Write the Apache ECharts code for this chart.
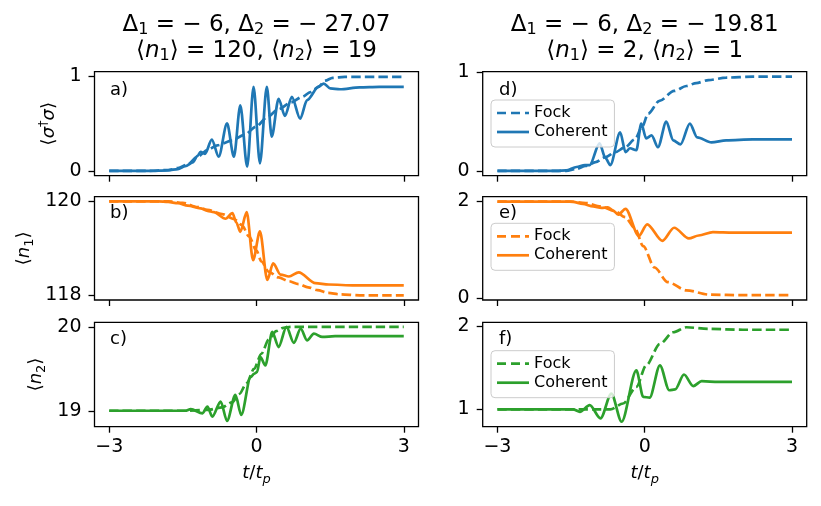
<!DOCTYPE html>
<html>
<head>
<meta charset="utf-8">
<script src="https://cdn.jsdelivr.net/npm/echarts@6/dist/echarts.min.js"></script>
<style>
  html, body { margin: 0; padding: 0; background: #fff; }
  #main { width: 821px; height: 506px; }
</style>
</head>
<body>
<div id="main"></div>
<script>
// t/t_p axis ticks
var xTicks = [-3, 0, 3];

// panel a) <sigma+ sigma>, Delta2 = -27.07
var aFock = [[-3,0],[-2.2,0],[-1.8,0.01],[-1.6,0.03],[-1.4,0.07],[-1.2,0.15],[-1.0,0.22],[-0.8,0.27],[-0.5,0.32],[-0.25,0.38],[0,0.47],[0.2,0.56],[0.45,0.65],[0.7,0.72],[0.93,0.78],[1.1,0.83],[1.25,0.88],[1.4,0.95],[1.55,0.98],[1.8,0.99],[3,0.99]];
var aCoh = [[-3,0],[-2.2,0],[-1.8,0.007],[-1.6,0.02],[-1.45,0.05],[-1.3,0.09],[-1.2,0.16],[-1.14,0.2],[-1.05,0.18],[-0.91,0.33],[-0.77,0.15],[-0.6,0.5],[-0.46,0.15],[-0.33,0.69],[-0.19,0.045],[-0.06,0.885],[0.07,0.08],[0.21,0.885],[0.31,0.36],[0.45,0.76],[0.58,0.58],[0.72,0.78],[0.89,0.55],[1.03,0.745],[1.27,0.89],[1.37,0.92],[1.5,0.87],[1.7,0.86],[2.1,0.88],[2.5,0.885],[3,0.885]];

// panel b) <n1>
var bFock = [[-3,120],[-1.8,120],[-1.5,119.97],[-1.2,119.88],[-1.0,119.82],[-0.7,119.73],[-0.45,119.62],[-0.3,119.5],[-0.15,119.25],[0,118.95],[0.1,118.72],[0.25,118.5],[0.45,118.38],[0.66,118.3],[0.86,118.24],[1.05,118.17],[1.24,118.11],[1.46,118.05],[1.7,118.02],[2.1,118.0],[3,118.0]];
var bCoh = [[-3,120],[-2.0,120],[-1.8,119.99],[-1.6,119.96],[-1.4,119.91],[-1.14,119.85],[-1.0,119.8],[-0.87,119.77],[-0.63,119.63],[-0.49,119.75],[-0.41,119.55],[-0.33,119.35],[-0.2,119.77],[-0.07,118.75],[0.07,119.36],[0.22,118.33],[0.34,118.68],[0.49,118.44],[0.66,118.4],[0.86,118.49],[1.2,118.26],[1.47,118.23],[2.0,118.21],[3,118.21]];

// panel c) <n2>
var cFock = [[-3,19],[-1.5,19],[-1.0,19.01],[-0.7,19.04],[-0.5,19.1],[-0.35,19.2],[-0.2,19.33],[-0.05,19.5],[0.1,19.68],[0.25,19.85],[0.4,19.95],[0.55,19.99],[0.7,20.0],[3,20.0]];
var cCoh = [[-3,19],[-1.6,19],[-1.45,19.0],[-1.34,19.02],[-1.1,18.97],[-1.0,19.05],[-0.9,18.93],[-0.73,19.11],[-0.6,18.88],[-0.43,19.19],[-0.31,18.95],[-0.12,19.4],[-0.05,19.44],[0.01,19.46],[0.08,19.64],[0.18,19.54],[0.32,19.94],[0.45,19.76],[0.61,20.0],[0.76,19.81],[0.9,19.98],[1.03,19.84],[1.17,19.92],[1.34,19.88],[1.6,19.89],[3,19.89]];

// panel d) <sigma+ sigma>, Delta2 = -19.81
var dFock = [[-3,0],[-1.6,0],[-1.4,0.02],[-1.2,0.05],[-1.0,0.09],[-0.8,0.14],[-0.6,0.19],[-0.4,0.24],[-0.2,0.32],[-0.05,0.45],[0.07,0.58],[0.3,0.71],[0.6,0.81],[0.85,0.86],[1.05,0.89],[1.3,0.92],[1.66,0.945],[2.2,0.955],[3,0.955]];
var dCoh = [[-3,0],[-1.8,0],[-1.6,0.005],[-1.39,0.04],[-1.22,0.06],[-1.12,0.06],[-0.92,0.28],[-0.8,0.13],[-0.7,0.06],[-0.5,0.39],[-0.39,0.19],[-0.3,0.23],[-0.17,0.21],[-0.07,0.48],[0.03,0.33],[0.14,0.36],[0.27,0.24],[0.44,0.5],[0.58,0.31],[0.73,0.27],[0.92,0.48],[1.07,0.34],[1.36,0.29],[1.66,0.31],[2.2,0.32],[3,0.32]];

// panel e) <n1>
var eFock = [[-3,2],[-1.5,2],[-1.2,1.97],[-0.9,1.9],[-0.6,1.8],[-0.4,1.68],[-0.2,1.45],[-0.03,1.08],[0.2,0.64],[0.47,0.34],[0.85,0.17],[1.32,0.08],[2,0.07],[3,0.07]];
var eCoh = [[-3,2],[-1.6,2],[-1.46,1.995],[-1.26,1.95],[-1.05,1.9],[-0.88,1.87],[-0.75,1.88],[-0.65,1.82],[-0.54,1.73],[-0.39,1.85],[-0.12,1.29],[0.05,1.53],[0.36,1.19],[0.6,1.46],[0.9,1.24],[1.1,1.3],[1.39,1.37],[1.8,1.36],[3,1.36]];

// panel f) <n2>
var fFock = [[-3,1],[-1,1],[-0.7,1.0],[-0.44,1.07],[-0.17,1.27],[0.03,1.53],[0.31,1.79],[0.58,1.93],[0.85,1.99],[1.3,1.97],[2,1.96],[3,1.96]];
var fCoh = [[-3,1],[-1.6,1],[-1.46,1.0],[-1.32,0.97],[-1.12,1.05],[-0.9,0.89],[-0.68,1.19],[-0.47,0.85],[-0.17,1.47],[-0.03,1.15],[0.1,1.14],[0.31,1.53],[0.5,1.23],[0.62,1.24],[0.8,1.42],[0.99,1.28],[1.16,1.34],[1.5,1.33],[3,1.33]];

// y ranges and ticks per panel a..f
var yRanges = [[-0.05,1.045],[117.9,120.1],[18.81,20.055],[-0.048,1.005],[-0.03,2.1],[0.79,2.05]];
var yTicks = [[0,1],[118,120],[19,20],[0,1],[0,2],[1,2]];
var panelLabels = ['a)','b)','c)','d)','e)','f)'];

var FONT = 'DejaVu Sans';
var C0 = '#1f77b4', C1 = '#ff7f0e', C2 = '#2ca02c';
var colors = [C0, C1, C2, C0, C1, C2];
var fockData = [aFock, bFock, cFock, dFock, eFock, fFock];
var cohData = [aCoh, bCoh, cCoh, dCoh, eCoh, fCoh];
var keys = ['a','b','c','d','e','f'];

var colLeft = [94.5, 482.7];
var rowTop = [71.7, 196.7, 322.3];
var rowH = [104, 103.3, 104.4];
var W = 324;

function minus(v) { return String(v).replace('-', '\u2212'); }

// rich styles for ECharts text (color) and zrender graphic text (fill)
function rich(size, lh, colorKey) {
  var base = { fontFamily: FONT, fontSize: size, lineHeight: lh };
  var small = Math.round(size * 0.7);
  var r = {
    m: Object.assign({}, base),
    i: Object.assign({}, base, { fontStyle: 'italic' }),
    s: { fontFamily: FONT, fontSize: small, lineHeight: small, verticalAlign: 'bottom' },
    si: { fontFamily: FONT, fontSize: small, lineHeight: small, verticalAlign: 'bottom', fontStyle: 'italic' },
    u: { fontFamily: FONT, fontSize: small, lineHeight: small, verticalAlign: 'top' }
  };
  Object.keys(r).forEach(function (k) { r[k][colorKey] = '#000'; });
  return r;
}

var grids = [], xAxes = [], yAxes = [], series = [], legends = [], graphics = [];
var yNames = [
  '{m|\u27e8}{i|\u03c3}{u|\u2020}{i|\u03c3}{m|\u27e9}',
  '{m|\u27e8}{i|n}{s|1}{m|\u27e9}',
  '{m|\u27e8}{i|n}{s|2}{m|\u27e9}'
];
var yNameGap = [33, 58, 46];

var dashIcon = 'path://M0,0h9v1h-9zM14,0h9v1h-9zM28,0h4v1h-4z';
var solidIcon = 'path://M0,0h32v1h-32z';
var legendTops = [100, 223.3, 350.7];

for (var k = 0; k < 6; k++) {
  var col = k < 3 ? 0 : 1, row = k % 3;
  grids.push({ left: colLeft[col], top: rowTop[row], width: W, height: rowH[row],
    show: true, borderColor: '#000', borderWidth: 1.3, backgroundColor: 'transparent' });
  xAxes.push({
    type: 'value', gridIndex: k, min: -3.3, max: 3.3,
    axisLine: { show: false, onZero: false },
    splitLine: { show: false },
    axisTick: { show: true, customValues: xTicks, length: 6, lineStyle: { color: '#000', width: 1.3 } },
    axisLabel: { show: row === 2, customValues: xTicks, formatter: minus, margin: 11,
      fontSize: 19, fontFamily: FONT, color: '#000' },
    name: row === 2 ? '{i|t}{m|/}{i|t}{si|p}' : '',
    nameLocation: 'middle', nameGap: 35,
    nameTextStyle: { rich: rich(18, 24, 'color') }
  });
  yAxes.push({
    type: 'value', gridIndex: k, min: yRanges[k][0], max: yRanges[k][1],
    axisLine: { show: false, onZero: false },
    splitLine: { show: false },
    axisTick: { show: true, customValues: yTicks[k], length: 6, lineStyle: { color: '#000', width: 1.3 } },
    axisLabel: { customValues: yTicks[k], formatter: minus, margin: 13,
      fontSize: 19, fontFamily: FONT, color: '#000' },
    name: col === 0 ? yNames[row] : '',
    nameLocation: 'middle', nameRotate: 90, nameGap: yNameGap[row],
    nameTextStyle: { rich: rich(18, 24, 'color') }
  });
  series.push({
    name: 'Fock_' + keys[k], type: 'line', xAxisIndex: k, yAxisIndex: k,
    data: fockData[k], showSymbol: false, symbol: 'none', smooth: 0.3, smoothMonotone: 'x',
    lineStyle: { color: colors[k], width: 2.7, type: [9.4, 4.1], cap: 'butt' },
    itemStyle: { color: colors[k] }, z: 2
  });
  series.push({
    name: 'Coherent_' + keys[k], type: 'line', xAxisIndex: k, yAxisIndex: k,
    data: cohData[k], showSymbol: false, symbol: 'none', smooth: 0.3, smoothMonotone: 'x',
    lineStyle: { color: colors[k], width: 2.7 },
    itemStyle: { color: colors[k] }, z: 3
  });
  if (col === 1) {
    legends.push({
      left: 491, top: legendTops[row], orient: 'vertical',
      data: [{ name: 'Fock_' + keys[k], icon: dashIcon }, { name: 'Coherent_' + keys[k], icon: solidIcon }],
      formatter: function (n) { return n.split('_')[0]; },
      itemWidth: 32, itemHeight: 2.7, symbolKeepAspect: false, itemGap: 3,
      padding: [5, 7, 7, 6],
      backgroundColor: 'rgba(255,255,255,0.8)', borderColor: '#cccccc', borderWidth: 1, borderRadius: 4,
      itemStyle: { borderWidth: 0 },
      textStyle: { fontSize: 16, fontFamily: FONT, color: '#000' },
      selectedMode: false
    });
  }
  graphics.push({
    type: 'text', x: col === 0 ? 110 : 499, y: [90, 213, 339][row], z: 10,
    style: { text: panelLabels[k], fontSize: 18, fontFamily: FONT, fill: '#000', verticalAlign: 'middle' }
  });
}

// column titles
var titleLines = [
  '{m|\u0394}{s|1}{m| = \u2212 6, \u0394}{s|2}{m| = \u2212 27.07}\n{m|\u27e8}{i|n}{s|1}{m|\u27e9 = 120, \u27e8}{i|n}{s|2}{m|\u27e9 = 19}',
  '{m|\u0394}{s|1}{m| = \u2212 6, \u0394}{s|2}{m| = \u2212 19.81}\n{m|\u27e8}{i|n}{s|1}{m|\u27e9 = 2, \u27e8}{i|n}{s|2}{m|\u27e9 = 1}'
];
[256.5, 644.7].forEach(function (cx, i) {
  graphics.push({
    type: 'text', x: cx, y: 12, z: 10,
    style: { text: titleLines[i], align: 'center', verticalAlign: 'top', rich: rich(23, 26, 'fill'),
      fontSize: 23, fontFamily: FONT, lineHeight: 26, fill: '#000' }
  });
});

var myChart = echarts.init(document.getElementById('main'));
myChart.setOption({
  animation: false,
  backgroundColor: '#fff',
  grid: grids,
  xAxis: xAxes,
  yAxis: yAxes,
  legend: legends,
  series: series,
  graphic: graphics
});
</script>
</body>
</html>
